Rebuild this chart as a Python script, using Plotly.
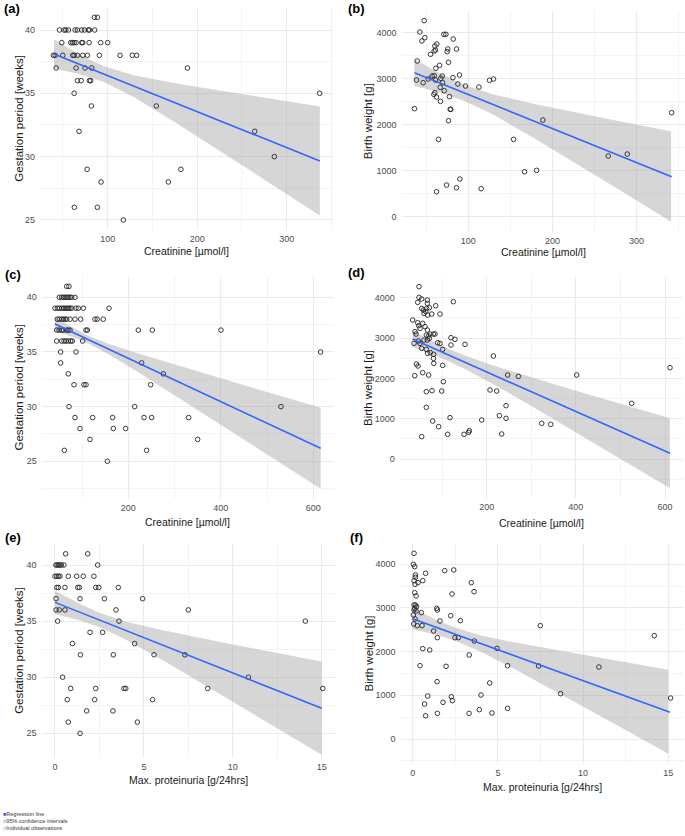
import plotly.graph_objects as go

W, H = 685, 836

# ---------------- (a) Creatinine vs gestation period ----------------
a_x = [46.1, 51.3, 53.2, 56.1, 63.6, 66.2, 71, 74, 78.4, 79.6, 85.5,
       85.1, 88.5,
       48.7, 58.7, 60.6, 62.5, 64.7, 71, 72.1, 79.2, 92.2, 100,
       39.4, 41.3, 49.8, 61, 62.5, 66.2, 72.1, 77.3, 90.7, 113.8, 127.5, 132.3,
       42.4, 64.7, 74.7, 82.2, 189.2,
       66.2, 70.3, 79.6, 81,
       62.5, 336.8,
       81.8, 154.3,
       68, 264.3,
       286.2,
       77, 181.8,
       92.6, 167.7,
       62.8, 88.5,
       117.5]
a_y = [40, 40, 40, 40, 40, 40, 40, 40, 40, 40, 40,
       41, 41,
       39, 39, 39, 39, 39, 39, 39, 39, 39, 39,
       38, 38, 38, 38, 38, 38, 38, 38, 38, 38, 38, 38,
       37, 37, 37, 37, 37,
       36, 36, 36, 36,
       35, 35,
       34, 34,
       32, 32,
       30,
       29, 29,
       28, 28,
       26, 26,
       25]
a_fit_x = [40, 337]
a_fit_y = [38.1, 29.66]
a_band_x = [40, 70, 95, 130, 180, 240, 290, 337]
a_band_hi = [39.25, 38.01, 37.16, 36.41, 35.74, 35.04, 34.47, 33.96]
a_band_lo = [36.95, 36.49, 35.92, 34.67, 32.50, 29.80, 27.51, 25.36]

# ---------------- (b) Creatinine vs birth weight ----------------
b_x = [47.7, 42.6, 45.0, 48.5, 39.4, 38.6, 46.5, 36.2, 55.2, 59.6, 61.2, 62.8, 60.4,
       61.6, 66.0, 52.5, 57.2, 59.6, 61.2, 59.2, 62.4, 60.4, 67.1, 66.7, 67.5, 69.1,
       69.5, 71.5, 71.1, 73.5, 75.0, 75.8, 76.6, 77.8, 78.6, 79.4, 76.6, 82.2, 81.8,
       86.1, 87.7, 89.7, 96.8, 112.7, 125.3, 130.1, 64.8, 62.4, 74.3, 86.1, 90.1,
       115.4, 153.9, 166.9, 181.2, 188.7, 266.3, 288.9, 341.6]
b_y = [4261, 4014, 3819, 3891, 3384, 2971, 2913, 2348, 3529, 3601, 3623, 3754, 3710,
       3225, 3290, 2993, 3058, 3065, 2971, 2659, 2601, 2696, 2507, 2812, 3007, 3058,
       2913, 2739, 3964, 3964, 3587, 3645, 3355, 2609, 2333, 2333, 2087, 3862, 3022,
       3645, 2884, 3080, 2840, 2819, 2964, 2993, 1681, 543, 688, 630, 819,
       609, 1681, 978, 1007, 2101, 1319, 1362, 2261]
b_fit_x = [36.2, 341.6]
b_fit_y = [3130, 869]
b_band_x = [36, 65, 95, 130, 180, 240, 290, 341]
b_band_hi = [3421, 3127, 2869, 2658, 2443, 2217, 2037, 1857]
b_band_lo = [2841, 2707, 2521, 2214, 1689, 1025, 465, -109]

# ---------------- (c) Creatinine vs gestation period ----------------
c_x = [66.7, 71.7,
       50.8, 55.9, 59.5, 63.1, 66.7, 70.3, 73.9, 77.5, 84.7,
       41.4, 46.5, 50.8, 55.9, 59.5, 63.1, 66.7, 70.3, 73.9, 77.5, 86.8, 91.9, 102.7, 158.2,
       46.5, 50.8, 55.9, 59.5, 63.1, 66.7, 73.9, 84.7, 96.9, 127.9, 132.9, 145.9,
       45, 50.1, 55.9, 59.5, 66.7, 70.3, 73.9, 108.5, 111.4, 221.6, 251.9, 400.4,
       45, 55.9, 60.9, 65.2, 70.3, 75.3, 78.9, 101.3,
       53.7, 86.8, 615.9,
       53.7, 228.8,
       70.3, 275.7,
       82.5, 104.1, 108.5, 248.3,
       71.7, 213.7, 530.1,
       84.7, 122.9, 166.1, 233.9, 250.5, 330.5,
       95.5, 167.6, 194.2,
       117.1, 349.9,
       61.6, 239.6,
       154.6]
c_y = [41, 41,
       40, 40, 40, 40, 40, 40, 40, 40, 40,
       39, 39, 39, 39, 39, 39, 39, 39, 39, 39, 39, 39, 39, 39,
       38, 38, 38, 38, 38, 38, 38, 38, 38, 38, 38, 38,
       37, 37, 37, 37, 37, 37, 37, 37, 37, 37, 37, 37,
       36, 36, 36, 36, 36, 36, 36, 36,
       35, 35, 35,
       34, 34,
       33, 33,
       32, 32, 32, 32,
       30, 30, 30,
       29, 29, 29, 29, 29, 29,
       28, 28, 28,
       27, 27,
       26, 26,
       25]
c_fit_x = [41.4, 615.9]
c_fit_y = [37.56, 26.19]
c_band_x = [41, 80, 115, 160, 220, 300, 400, 500, 616]
c_band_hi = [38.22, 37.24, 36.46, 35.70, 34.88, 33.85, 32.59, 31.33, 29.89]
c_band_lo = [36.92, 36.36, 35.74, 34.72, 33.18, 31.03, 28.34, 25.63, 22.49]

# ---------------- (d) Creatinine vs birth weight ----------------
d_x = [48.2, 48.2, 45.2, 54.2, 66.9, 34.0, 39.3, 41.5, 45.2, 47.5, 50.4, 54.2, 57.9,
       59.4, 63.2, 65.4, 66.9, 71.4, 76.6, 67.6, 85.6, 95.3, 125.2, 56.4, 61.7, 67.0,
       69.2, 73.0, 64.6, 80.4, 84.1, 37.0, 46.7, 50.4, 59.4, 66.9, 71.4, 54.2, 64.6,
       67.6, 73.5, 80.9, 90.1, 95.3, 101.3, 119.9, 128.9, 119.9, 151.4, 42.3, 46.0,
       38.5, 56.4, 69.8, 80.7, 81.3, 101.3, 102.8, 64.6, 77.4, 99.1, 64.6, 78.9, 92.2,
       54.2, 117.8, 112.5, 149.2, 161.1, 159.6, 188.8, 215.0, 207.5, 222.4, 247.1,
       271.0, 243.4, 228.4, 243.4, 233.6, 323.4, 343.6, 401.9, 525.2, 611.2]
d_y = [4273, 4008, 3884, 3967, 3942, 3446, 3157, 3099, 3380, 3306, 3240, 3735, 3694,
       3611, 3653, 3735, 3859, 3752, 3595, 3570, 3801, 3595, 3901, 3364, 3281, 3198,
       3049, 3099, 3074, 3099, 3099, 2868, 2926, 2868, 2950, 2950, 2992, 2744, 2719,
       2620, 2636, 2595, 2884, 2868, 2719, 3008, 2967, 2826, 2843, 2355, 2306,
       2066, 2140, 2083, 2496, 2372, 2322, 1917, 1669, 1694, 1686, 1281, 942, 802,
       554, 1025, 612, 612, 702, 661, 967, 2554, 1711, 1686, 2083,
       2049, 1322, 1074, 1008, 620, 884, 859, 2083, 1380, 2264]
d_fit_x = [34, 611.2]
d_fit_y = [2975, 140]
d_band_x = [34, 80, 115, 160, 220, 300, 400, 500, 611]
d_band_hi = [3182, 2913, 2730, 2527, 2298, 2021, 1691, 1367, 1009]
d_band_lo = [2768, 2585, 2424, 2185, 1824, 1315, 663, 5, -727]

# ---------------- (e) Max. proteinuria vs gestation period ----------------
e_x = [0.6, 1.84,
       0.05, 0.12, 0.2, 0.28, 0.36, 0.5, 2.4,
       0.0, 0.1, 0.19, 0.28, 0.75, 1.22, 1.59, 2.19,
       0.1, 0.19, 0.56, 1.28, 1.37, 2.29, 2.46, 3.56,
       0.06, 1.41, 2.78, 4.93,
       0.06, 0.24, 0.56, 3.43, 7.5,
       0.15, 3.6, 14.08,
       1.97, 2.68,
       0.98, 4.48,
       1.43, 3.28, 5.57, 7.31,
       0.43, 10.88,
       0.88, 2.29, 3.88, 3.98, 8.59, 15.06,
       0.69, 2.23, 5.49,
       1.78, 3.26,
       0.75, 4.63,
       1.41]
e_y = [41, 41,
       40, 40, 40, 40, 40, 40, 40,
       39, 39, 39, 39, 39, 39, 39, 39,
       38, 38, 38, 38, 38, 38, 38, 38,
       37, 37, 37, 37,
       36, 36, 36, 36, 36,
       35, 35, 35,
       34, 34,
       33, 33,
       32, 32, 32, 32,
       30, 30,
       29, 29, 29, 29, 29, 29,
       28, 28, 28,
       27, 27,
       26, 26,
       25]
e_fit_x = [0, 15]
e_fit_y = [36.67, 27.24]
e_band_x = [0, 1.5, 2.5, 4, 6, 8, 10, 12.5, 15]
e_band_hi = [37.71, 36.45, 35.74, 34.95, 34.21, 33.55, 32.92, 32.15, 31.39]
e_band_lo = [35.63, 35.02, 34.47, 33.35, 31.59, 29.73, 27.84, 25.47, 23.09]

# ---------------- (f) Max. proteinuria vs birth weight ----------------
f_x = [0.08, 0.04, 0.12, 0.16, 0.16, 0.08, 0.31, 0.14, 0.59, 0.76, 1.88, 2.41, 3.44,
       3.6, 2.31, 0.12, 0.2, 0.08, 0.16, 0.23, 0.12, 0.08, 0.2, 0.04, 0.14, 0.06,
       0.27, 0.51, 0.55, 1.41, 1.45, 1.6, 2.23, 2.8, 1.23, 1.45, 2.48, 2.68, 3.62,
       4.95, 3.32, 0.59, 1.0, 0.43, 1.96, 5.57, 7.39, 7.49, 10.93, 14.18, 15.14,
       8.68, 1.43, 4.52, 0.88, 0.7, 0.76, 1.45, 2.27, 2.33, 1.78, 4.01, 3.91, 3.31,
       4.65, 5.57]
f_y = [4252, 4000, 3947, 3756, 3702, 3626, 3580, 3542, 3626, 3794, 3855, 3870, 3580,
       3374, 3321, 3351, 3275, 3069, 3069, 3031, 2992, 2954, 2931, 2840, 2748, 2634,
       2596, 2893, 2596, 2992, 2954, 2702, 2824, 2710, 2473, 2321, 2321, 2321, 2244,
       2076, 1924, 2069, 2038, 1679, 1664, 1679, 1672, 2596, 1649, 2367, 939,
       1038, 1313, 1283, 985, 802, 534, 588, 969, 878, 840, 1008, 672, 588,
       595, 702]
f_fit_x = [0.04, 15.1]
f_fit_y = [2748, 611]
f_band_x = [0, 1.5, 2.5, 4, 6, 8, 10, 12.5, 15]
f_band_hi = [2995, 2707, 2546, 2372, 2207, 2063, 1924, 1755, 1588]
f_band_lo = [2514, 2375, 2252, 2000, 1599, 1176, 746, 205, -336]

# ---------------- labels ----------------
panel_labels = ["(a)", "(b)", "(c)", "(d)", "(e)", "(f)"]
x_titles = ["Creatinine [µmol/l]", "Creatinine [µmol/l]", "Creatinine [µmol/l]",
            "Creatinine [µmol/l]", "Max. proteinuria [g/24hrs]", "Max. proteinuria [g/24hrs]"]
y_titles = ["Gestation period [weeks]", "Birth weight [g]", "Gestation period [weeks]",
            "Birth weight [g]", "Gestation period [weeks]", "Birth weight [g]"]
legend_labels = ["Regression line", "95% confidence intervals", "Individual observations"]

series = [
    (a_x, a_y, a_fit_x, a_fit_y, a_band_x, a_band_hi, a_band_lo),
    (b_x, b_y, b_fit_x, b_fit_y, b_band_x, b_band_hi, b_band_lo),
    (c_x, c_y, c_fit_x, c_fit_y, c_band_x, c_band_hi, c_band_lo),
    (d_x, d_y, d_fit_x, d_fit_y, d_band_x, d_band_hi, d_band_lo),
    (e_x, e_y, e_fit_x, e_fit_y, e_band_x, e_band_hi, e_band_lo),
    (f_x, f_y, f_fit_x, f_fit_y, f_band_x, f_band_hi, f_band_lo),
]

# layout geometry (pixels): x-domain, y-domain (top, bottom), axis ranges, ticks
geo = [
    dict(xd=(40.1, 333.0), yd=(7.2, 230.1), xr=(24.5, 351.7), yr=(24.2, 41.8), xdt=100, ydt=5, xt=251, lab=(12, 9)),
    dict(xd=(401.6, 684.5), yd=(10.6, 231.8), xr=(20.9, 356.9), yr=(-327.5, 4479.5), xdt=100, ydt=1000, xt=252, lab=(356, 9)),
    dict(xd=(41.7, 333.9), yd=(276.2, 498.9), xr=(12.7, 644.6), yr=(21.56, 41.93), xdt=200, ydt=5, xt=521.5, lab=(13, 274)),
    dict(xd=(399.8, 682.9), yd=(276.6, 498.4), xr=(5.1, 640.1), yr=(-977, 4523), xdt=200, ydt=1000, xt=523, lab=(356, 273)),
    dict(xd=(41.6, 336.1), yd=(543.7, 758.0), xr=(-0.753, 15.81), yr=(22.8, 41.9), xdt=5, ydt=5, xt=780, lab=(13, 537)),
    dict(xd=(400.5, 683.6), yd=(543.3, 763.7), xr=(-0.715, 15.9), yr=(-565, 4481), xdt=5, ydt=1000, xt=786.5, lab=(356, 537)),
]
ytitle_x = [19, 368, 19, 367.5, 19, 368]


def px(xp):
    return xp / W


def py(yp):
    return 1 - yp / H


FONT = "Liberation Sans, Arial, sans-serif"
LINE_COL = "#3366FF"
BAND_COL = "rgba(153,153,153,0.4)"
PT_COL = "#262626"

fig = go.Figure()
annotations = []
layout_axes = {}

for i, ((x, y, fx, fy, bx, bhi, blo), g) in enumerate(zip(series, geo)):
    n = i + 1
    xa = "x" if n == 1 else f"x{n}"
    ya = "y" if n == 1 else f"y{n}"
    fig.add_trace(go.Scatter(x=bx + bx[::-1], y=bhi + blo[::-1], fill="toself",
                             fillcolor=BAND_COL, line=dict(width=0), mode="lines",
                             hoverinfo="skip", showlegend=False, xaxis=xa, yaxis=ya))
    fig.add_trace(go.Scatter(x=x, y=y, mode="markers", showlegend=False,
                             marker=dict(symbol="circle-open", size=4.6, color=PT_COL,
                                         line=dict(width=0.9, color=PT_COL)),
                             xaxis=xa, yaxis=ya))
    fig.add_trace(go.Scatter(x=fx, y=fy, mode="lines", showlegend=False,
                             line=dict(color=LINE_COL, width=1.6), xaxis=xa, yaxis=ya))

    common = dict(showgrid=True, gridcolor="#EBEBEB", gridwidth=1, zeroline=False,
                  showline=False, ticks="", tickfont=dict(family=FONT, size=9, color="#4D4D4D"))
    layout_axes["xaxis" if n == 1 else f"xaxis{n}"] = dict(
        domain=[px(g["xd"][0]), px(g["xd"][1])], range=list(g["xr"]), anchor=ya,
        tick0=0, dtick=g["xdt"], ticklabelstandoff=2,
        minor=dict(tick0=0, dtick=g["xdt"] / 2, showgrid=True, gridcolor="#F4F4F4", gridwidth=0.6),
        **common)
    layout_axes["yaxis" if n == 1 else f"yaxis{n}"] = dict(
        domain=[py(g["yd"][1]), py(g["yd"][0])], range=list(g["yr"]), anchor=xa,
        tick0=0, dtick=g["ydt"], ticklabelstandoff=4,
        minor=dict(tick0=0, dtick=g["ydt"] / 2, showgrid=True, gridcolor="#F4F4F4", gridwidth=0.6),
        **common)

    annotations.append(dict(x=px((g["xd"][0] + g["xd"][1]) / 2), y=py(g["xt"]), xref="paper", yref="paper",
                            text=x_titles[i], showarrow=False, xanchor="center", yanchor="middle",
                            font=dict(family=FONT, size=10.5, color="#1a1a1a")))
    annotations.append(dict(x=px(ytitle_x[i]), y=py((g["yd"][0] + g["yd"][1]) / 2), xref="paper", yref="paper",
                            text=y_titles[i], showarrow=False, textangle=-90, xanchor="center", yanchor="middle",
                            font=dict(family=FONT, size=11.5, color="#1a1a1a")))
    annotations.append(dict(x=px(g["lab"][0]), y=py(g["lab"][1]), xref="paper", yref="paper",
                            text="<b>" + panel_labels[i] + "</b>", showarrow=False, xanchor="center",
                            yanchor="middle", font=dict(family=FONT, size=13, color="#000000")))

legend_marks = ['<span style="color:#3366FF">■</span>', '<span style="color:#C8C8C8">■</span>',
                '<span style="color:#555555">○</span>']
legend_y = [813.5, 821, 828]
for mk, lab, ly in zip(legend_marks, legend_labels, legend_y):
    annotations.append(dict(x=px(2), y=py(ly), xref="paper", yref="paper", text=mk + lab,
                            showarrow=False, xanchor="left", yanchor="middle", borderpad=0,
                            font=dict(family=FONT, size=5.5, color="#333333")))

fig.update_layout(width=W, height=H, margin=dict(l=0, r=0, t=0, b=0),
                  paper_bgcolor="white", plot_bgcolor="white", showlegend=False,
                  annotations=annotations, **layout_axes)

fig.write_html("out.html", config={"displayModeBar": False},
               post_script="document.body.style.margin='0px';document.body.style.overflow='hidden';")
